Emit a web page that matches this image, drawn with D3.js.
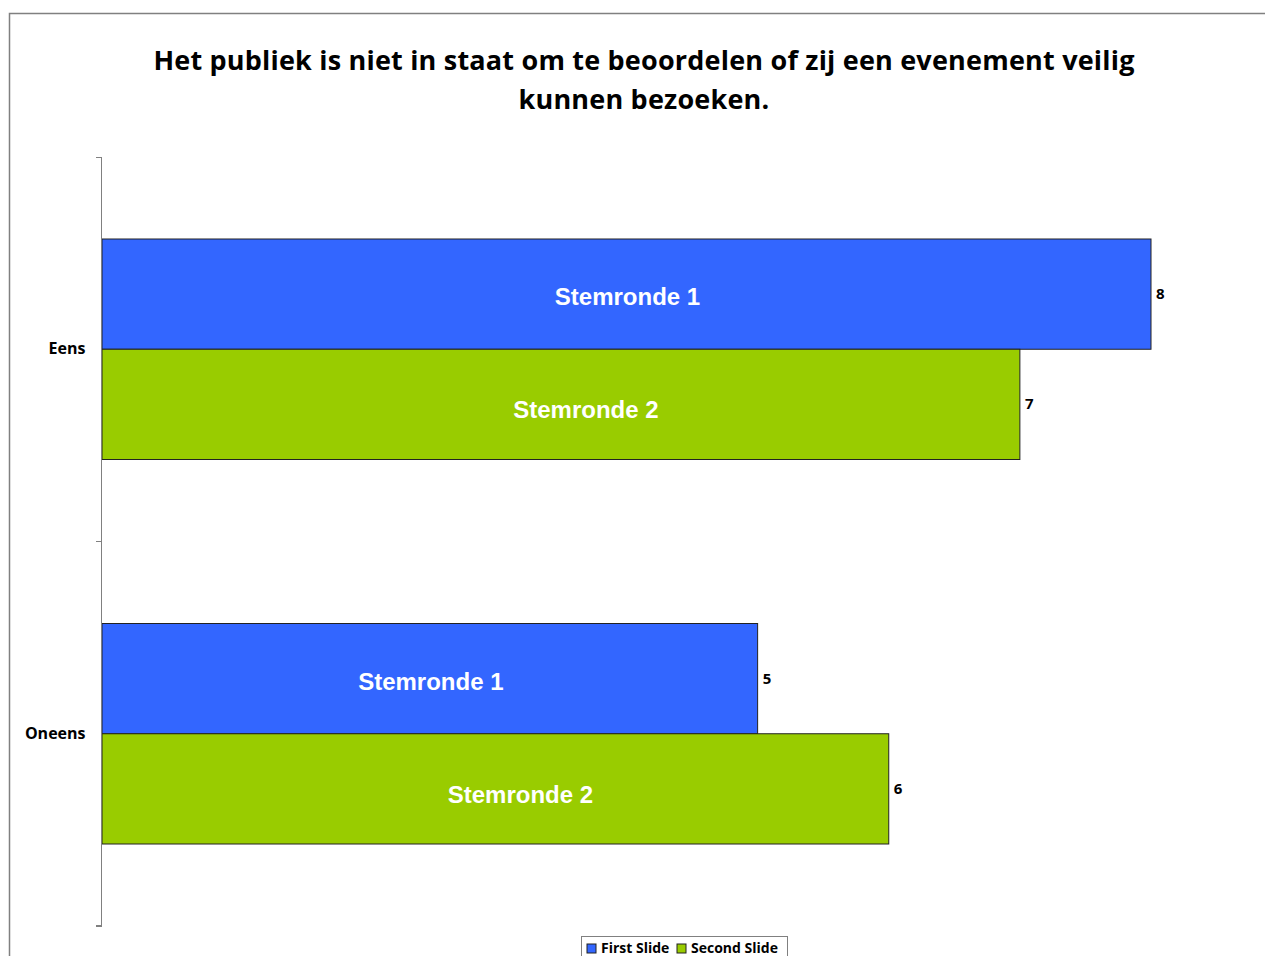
<!DOCTYPE html>
<html lang="en">
<head>
  <meta charset="UTF-8">
  <title>Stemronde chart</title>
  <script src="https://cdn.jsdelivr.net/npm/d3@7/dist/d3.min.js"></script>
  <style>
    body { margin: 0; background: #fff; }
    .axis path, .axis line { fill: none; stroke: #808080; shape-rendering: crispEdges; }
    .axis text { font-family: "Open Sans", sans-serif; font-size: 16px; font-weight: bold; fill: #000; }
  </style>
</head>
<body>
<script>
var categories = ["Eens", "Oneens"];
var series = ["First Slide", "Second Slide"];
var barLabels = ["Stemronde 1", "Stemronde 2"];
var firstSlide = [8, 5];
var secondSlide = [7, 6];
var colors = ["#3366FF", "#99CC00"];

var w = 1265, h = 956;

var svg = d3.select("body").append("svg")
  .attr("width", w)
  .attr("height", h);

// outer frame
svg.append("path")
  .attr("d", "M9.5," + h + "V13.5H" + w)
  .attr("fill", "none")
  .attr("stroke", "#808080")
  .attr("stroke-width", 1.5);

// title
svg.append("text")
  .attr("x", 644).attr("y", 70)
  .attr("text-anchor", "middle")
  .attr("font-family", "'Open Sans', sans-serif")
  .attr("font-weight", "bold")
  .attr("font-size", "27px")
  .attr("letter-spacing", "0.2px")
  .selectAll("tspan")
  .data(["Het publiek is niet in staat om te beoordelen of zij een evenement veilig", "kunnen bezoeken."])
  .enter().append("tspan")
  .attr("x", 644)
  .attr("dy", (d, i) => i === 0 ? 0 : 39)
  .text(d => d);

var xScale = d3.scaleLinear().domain([0, 8]).range([102, 1151]);
var yScale = d3.scaleBand().domain(categories).range([157, 926]);
var inner = d3.scaleBand().domain(series).range([82, yScale.bandwidth() - 82]);

var rows = [];
categories.forEach(function (c, i) {
  rows.push({ cat: c, s: series[0], v: firstSlide[i], k: 0 });
  rows.push({ cat: c, s: series[1], v: secondSlide[i], k: 1 });
});

var bars = svg.selectAll("g.bar").data(rows).enter().append("g").attr("class", "bar");

bars.append("rect")
  .attr("x", xScale(0))
  .attr("y", d => yScale(d.cat) + inner(d.s))
  .attr("width", d => xScale(d.v) - xScale(0))
  .attr("height", inner.bandwidth())
  .attr("fill", d => colors[d.k])
  .attr("stroke", "#222")
  .attr("stroke-width", 1);

// inner labels (second series sits a bit right of the bar centre in the original)
bars.append("text")
  .attr("x", d => (xScale(0) + xScale(d.v)) / 2 + (d.k === 1 ? 25 : 1))
  .attr("y", d => yScale(d.cat) + inner(d.s) + inner.bandwidth() / 2 + (d.k === 1 ? 14 : 11))
  .attr("text-anchor", "middle")
  .attr("fill", "#fff")
  .attr("font-family", "'Liberation Sans', Arial, sans-serif")
  .attr("font-weight", "bold")
  .attr("font-size", "24px")
  .text(d => barLabels[d.k]);

bars.append("text")
  .attr("x", d => xScale(d.v) + 5)
  .attr("y", d => yScale(d.cat) + inner(d.s) + inner.bandwidth() / 2 + 5)
  .attr("font-family", "'Open Sans', sans-serif")
  .attr("font-weight", "bold")
  .attr("font-size", "15px")
  .text(d => d.v);

var yAxis = d3.axisLeft(yScale).tickSize(0).tickPadding(16);
var yg = svg.append("g")
  .attr("class", "axis")
  .attr("transform", "translate(101.5,0)")
  .call(yAxis);
yg.select(".domain").attr("d", "M-6,157.5H0V925.5H-6");
// category boundary ticks
yg.selectAll("line.sep")
  .data([157, 541, 926])
  .enter().append("line")
  .attr("class", "sep")
  .attr("x1", -6).attr("x2", 0)
  .attr("y1", d => d + 0.5).attr("y2", d => d + 0.5);
yg.selectAll(".tick text").attr("dy", "0.3em");

// legend
var legend = svg.append("g").attr("transform", "translate(581,936)");
legend.append("rect")
  .attr("x", 0.5).attr("y", 0.5)
  .attr("width", 206).attr("height", 30)
  .attr("fill", "#fff").attr("stroke", "#808080");
var lx = [6, 96];
series.forEach(function (s, i) {
  legend.append("rect")
    .attr("x", lx[i]).attr("y", 8)
    .attr("width", 9).attr("height", 9)
    .attr("fill", colors[i]).attr("stroke", "#222");
  legend.append("text")
    .attr("x", lx[i] + 14).attr("y", 17)
    .attr("font-family", "'Open Sans', sans-serif")
    .attr("font-weight", "bold")
    .attr("font-size", "14px")
    .text(s);
});
</script>
</body>
</html>
